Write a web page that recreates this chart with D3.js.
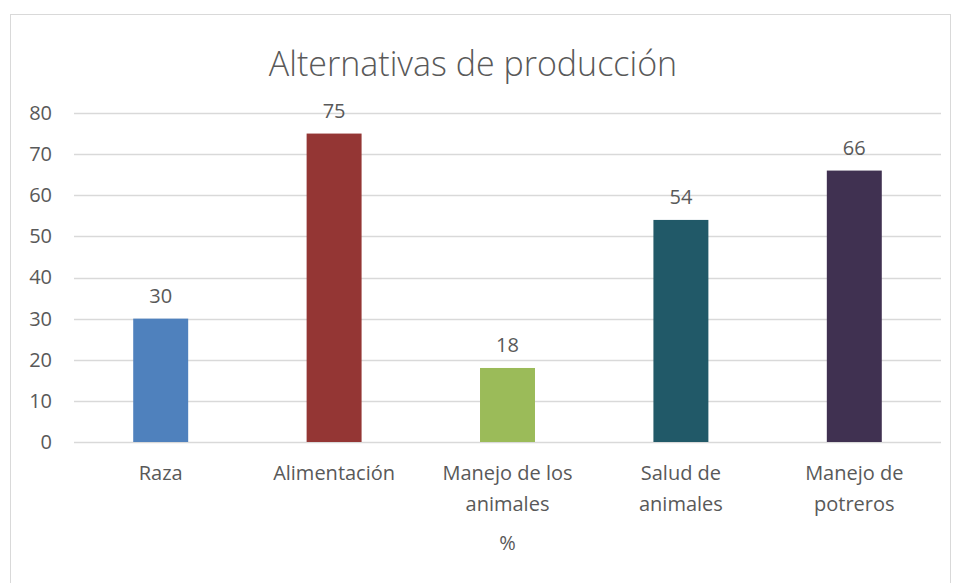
<!DOCTYPE html>
<html>
<head>
<meta charset="utf-8">
<script src="https://cdn.jsdelivr.net/npm/d3@7"></script>
<style>
  body { margin: 0; background: #fff; }
  text { font-family: "Open Sans", "Noto Sans", sans-serif; fill: #595959; }
</style>
</head>
<body>
<div id="chart"></div>
<script>
// chart values
var categories = [["Raza"], ["Alimentación"], ["Manejo de los", "animales"], ["Salud de", "animales"], ["Manejo de", "potreros"]];
var values = [30, 75, 18, 54, 66];
var colors = ["#4F81BD", "#943634", "#9BBB59", "#215968", "#403151"];
var yTicks = [0, 10, 20, 30, 40, 50, 60, 70, 80];

var W = 955, H = 583;
var margin = {top: 113, right: 14, bottom: 141, left: 74},
    width = W - margin.left - margin.right,
    height = H - margin.top - margin.bottom;

var svg = d3.select("#chart").append("svg")
    .attr("width", W)
    .attr("height", H);

//Outer chart border
svg.append("rect")
    .attr("x", 10.5).attr("y", 14.5)
    .attr("width", 940).attr("height", 600)
    .attr("fill", "none")
    .attr("stroke", "#d9d9d9");

//Title
svg.append("text")
    .attr("x", 473).attr("y", 76)
    .attr("text-anchor", "middle")
    .style("font-size", "34px")
    .style("font-weight", 300)
    .text("Alternativas de producción");

var x = d3.scaleBand().domain(d3.range(categories.length)).range([0, width]);
var y = d3.scaleLinear().domain([0, 80]).range([height, 0]);
var barW = x.bandwidth() * 0.317;

var g = svg.append("g")
    .attr("transform", "translate(" + margin.left + "," + margin.top + ")");

//Gridlines
g.selectAll(".grid").data(yTicks).enter().append("line")
    .attr("x1", 0).attr("x2", width)
    .attr("y1", function(d){ return Math.round(y(d)) + 0.5; })
    .attr("y2", function(d){ return Math.round(y(d)) + 0.5; })
    .attr("stroke", "#d9d9d9")
    .attr("stroke-width", 1.5);

//Y axis labels
var yAxis = d3.axisLeft(y).tickValues(yTicks).tickSize(0).tickPadding(22);
g.append("g").call(yAxis)
    .call(function(a){ a.select(".domain").remove(); })
    .selectAll("text")
    .style("font-size", "20px")
    .attr("fill", "#595959");

//Bars
g.selectAll(".bar").data(values).enter().append("rect")
    .attr("x", function(d, i){ return x(i) + x.bandwidth() / 2 - barW / 2; })
    .attr("y", function(d){ return y(d); })
    .attr("width", barW)
    .attr("height", function(d){ return height - y(d); })
    .attr("fill", function(d, i){ return colors[i]; });

//Data labels
g.selectAll(".lbl").data(values).enter().append("text")
    .attr("x", function(d, i){ return x(i) + x.bandwidth() / 2; })
    .attr("y", function(d){ return y(d) - 16; })
    .attr("text-anchor", "middle")
    .style("font-size", "20px")
    .text(function(d){ return d; });

//Category labels
var cat = g.selectAll(".cat").data(categories).enter().append("text")
    .attr("text-anchor", "middle")
    .style("font-size", "20px");
cat.selectAll("tspan").data(function(d, i){ return d.map(function(t){ return {t: t, i: i}; }); })
    .enter().append("tspan")
    .attr("x", function(d){ return x(d.i) + x.bandwidth() / 2; })
    .attr("y", function(d, j){ return height + 38 + j * 31; })
    .text(function(d){ return d.t; });

//Axis title
g.append("text")
    .attr("x", width / 2)
    .attr("y", height + 108)
    .attr("text-anchor", "middle")
    .style("font-size", "20px")
    .text("%");
</script>
</body>
</html>
